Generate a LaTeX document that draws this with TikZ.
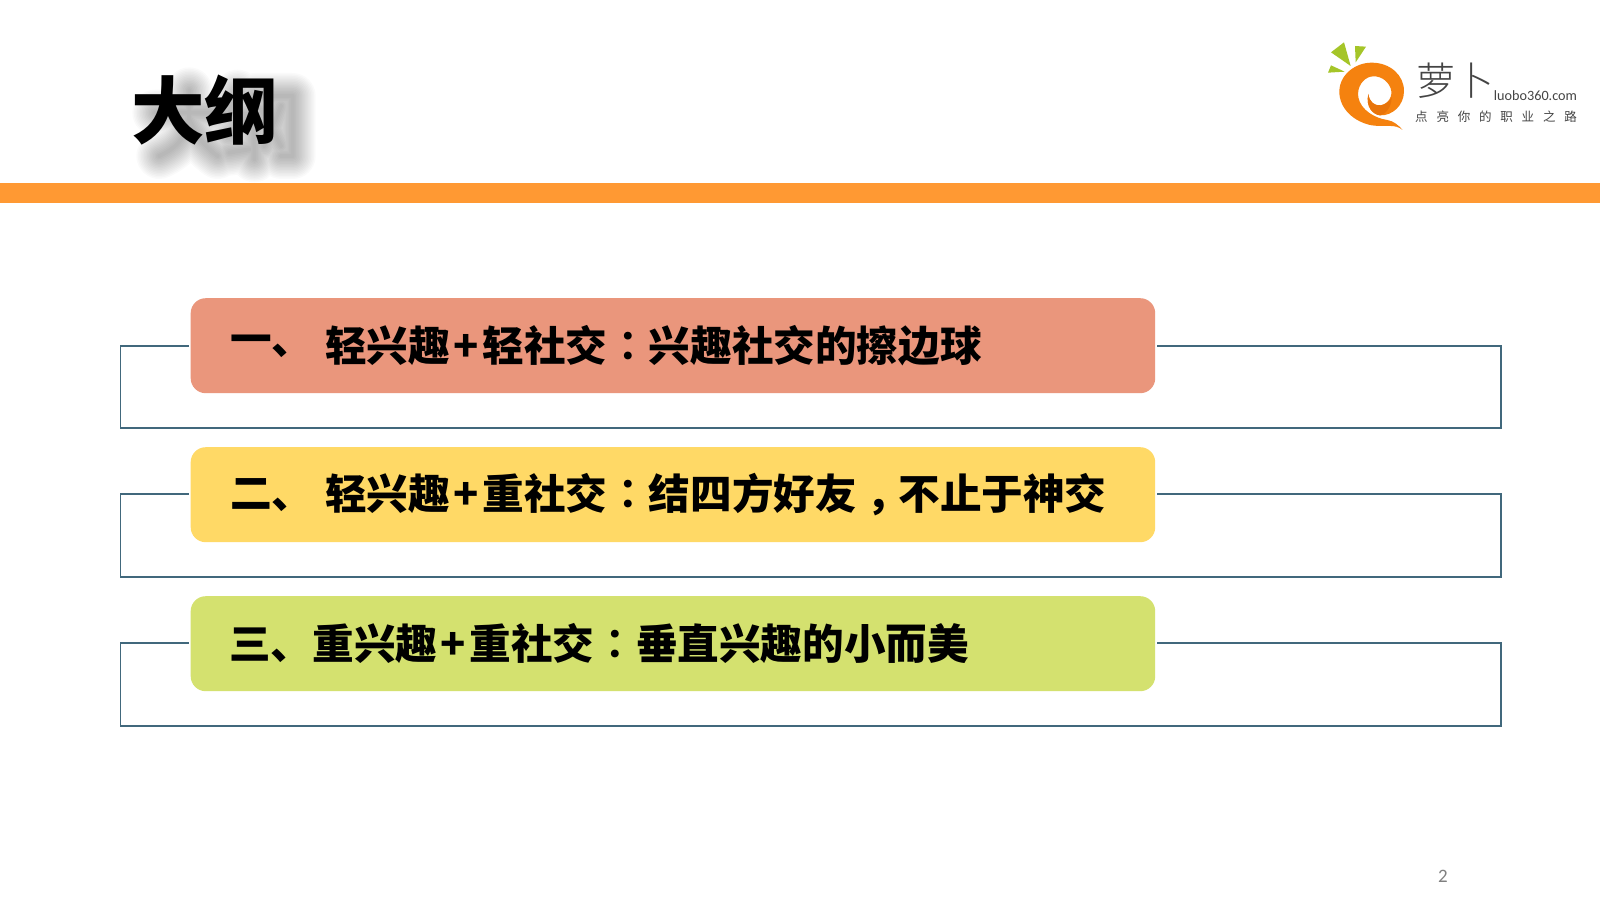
\documentclass[tikz,border=0pt]{standalone}
\usepackage{fontspec}
\newfontfamily\cjk{Noto Sans CJK SC}
\newfontfamily\cjkl{Noto Sans CJK SC Light}
\newfontfamily\cjkb{Noto Sans CJK SC Black}
\newfontfamily\cjkt{Noto Sans CJK TC Bold}
\setmainfont{Carlito}
\newcommand{\pls}{\makebox[32.5pt][c]{+}}
\newcommand{\cln}{{\cjkt ：}}
\newcommand{\cma}{\makebox[41.6pt][l]{\hspace*{9.5pt}，}}
\definecolor{barorange}{HTML}{FF9933}
\definecolor{frameblue}{HTML}{41687C}
\definecolor{boxa}{HTML}{EA967C}
\definecolor{boxb}{HTML}{FFD966}
\definecolor{boxc}{HTML}{D4E16F}
\definecolor{logoorange}{HTML}{F5820F}
\definecolor{logodark}{HTML}{E8740A}
\definecolor{logogreen}{HTML}{A5C528}
\definecolor{logotext}{HTML}{444444}
\tikzset{
  x=1pt,y=-1pt,
  framepath/.style={draw=frameblue,line width=1.6pt},
  itembox/.style={rounded corners=15pt,minimum width=964.5pt,minimum height=95pt,inner sep=0pt,anchor=north west},
  itemtext/.style={anchor=west,inner sep=0pt,font=\cjkb\fontsize{41.6}{41.6}\selectfont,text=black},
}
\begin{document}
\begin{tikzpicture}
\useasboundingbox (0,0) rectangle (1600,900);
\fill[white] (0,0) rectangle (1600,900);
% title shadow: the strokes of the title, blurred by stacking widths
\begin{scope}[shift={(121,56)},x=0.3333pt,y=-0.3333pt,line cap=round,line join=round]
\foreach \w in {4,7,10,13,16,19,22,25,28,31,34,37,40,43,46}{
  \draw[line width=\w pt,draw=black,draw opacity=0.02]
    (103,170) -- (310,170)
    (205,103) -- (205,170) .. controls (200,240) and (170,275) .. (115,300)
    (205,190) .. controls (225,240) and (255,275) .. (290,300)
    (350,110) -- (325,170) -- (380,175) -- (325,240)
    (325,290) -- (385,280)
    (400,310) -- (400,120) -- (515,120) -- (515,300) -- (480,300)
    (420,160) -- (480,270)
    (480,150) -- (430,270);
}
\end{scope}
\node[anchor=west,inner sep=0pt,font=\cjkb\fontsize{73.5}{73.5}\selectfont] (title) at (131,110.5) {大纲};
\fill[barorange] (0,183) rectangle (1600,203);
% frames
\coordinate (f1a) at (188.5,345.7); \coordinate (f1b) at (1157,345.7);
\draw[framepath] (f1a) -- (120.5,345.7) -- (120.5,427.7) -- (1501,427.7) -- (1501,345.7) -- (f1b);
\coordinate (f2a) at (188.5,494); \coordinate (f2b) at (1157,494);
\draw[framepath] (f2a) -- (120.5,494) -- (120.5,577) -- (1501,577) -- (1501,494) -- (f2b);
\coordinate (f3a) at (188.5,643); \coordinate (f3b) at (1157,643);
\draw[framepath] (f3a) -- (120.5,643) -- (120.5,726) -- (1501,726) -- (1501,643) -- (f3b);
% boxes
\node[itembox,fill=boxa] (b1) at (190.5,298) {};
\node[itembox,fill=boxb] (b2) at (190.5,447) {};
\node[itembox,fill=boxc] (b3) at (190.5,596) {};
\node[itemtext] (t1a) at (230,346) {一、};
\node[itemtext] (t1b) at (325,346) {轻兴趣\pls 轻社交\cln 兴趣社交的擦边球};
\node[itemtext] (t2a) at (230,495) {二、};
\node[itemtext] (t2b) at (325,495) {轻兴趣\pls 重社交\cln 结四方好友\cma 不止于神交};
\node[itemtext] (t3) at (229,643.5) {三、重兴趣\pls 重社交\cln 垂直兴趣的小而美};
% logo
\begin{scope}[shift={(1300,20)},x=0.3333pt,y=-0.3333pt]
\fill[logogreen] (93,97) -- (132,67) -- (152,138) -- cycle;
\fill[logogreen] (165,78) -- (198,80) -- (167,127) -- cycle;
\fill[logogreen] (93,136) -- (84,158) -- (134,155) -- cycle;
\fill[logoorange]
  (308,330) .. controls (285,310) and (255,322) .. (215,316)
  .. controls (160,305) and (118,265) .. (118,215)
  .. controls (118,165) and (165,128) .. (215,128)
  .. controls (270,128) and (312,165) .. (312,213)
  .. controls (312,258) and (275,288) .. (240,286)
  .. controls (220,284) and (196,262) .. (205,222)
  .. controls (208,245) and (222,258) .. (242,256)
  .. controls (265,252) and (280,228) .. (272,205)
  .. controls (262,178) and (235,165) .. (212,170)
  .. controls (190,175) and (170,200) .. (175,232)
  .. controls (182,270) and (225,295) .. (262,300)
  .. controls (280,303) and (295,315) .. (308,330) -- cycle;
\fill[logodark]
  (205,222) .. controls (208,245) and (222,258) .. (242,256)
  .. controls (255,254) and (268,245) .. (275,232)
  .. controls (275,262) and (255,284) .. (240,286)
  .. controls (220,284) and (196,262) .. (205,222) -- cycle;
\end{scope}
\node[anchor=center,inner sep=0pt,text=logotext,font=\cjkl\fontsize{39}{39}\selectfont] (luo) at (1455,80.5) {萝卜};
\node[anchor=center,inner sep=0pt,text=logotext,font=\fontsize{14.2}{15}\selectfont] (url) at (1535.5,96) {luobo360.com};
\node[anchor=center,inner sep=0pt,text=logotext,font=\cjk\fontsize{12.5}{13}\selectfont] (slogan) at (1496,116.5) {点\hspace{8.8pt}亮\hspace{8.8pt}你\hspace{8.8pt}的\hspace{8.8pt}职\hspace{8.8pt}业\hspace{8.8pt}之\hspace{8.8pt}路};
\node[anchor=center,inner sep=0pt,text=black!50,font=\fontsize{19}{19}\selectfont] (pg) at (1443,876) {2};
\end{tikzpicture}
\end{document}
